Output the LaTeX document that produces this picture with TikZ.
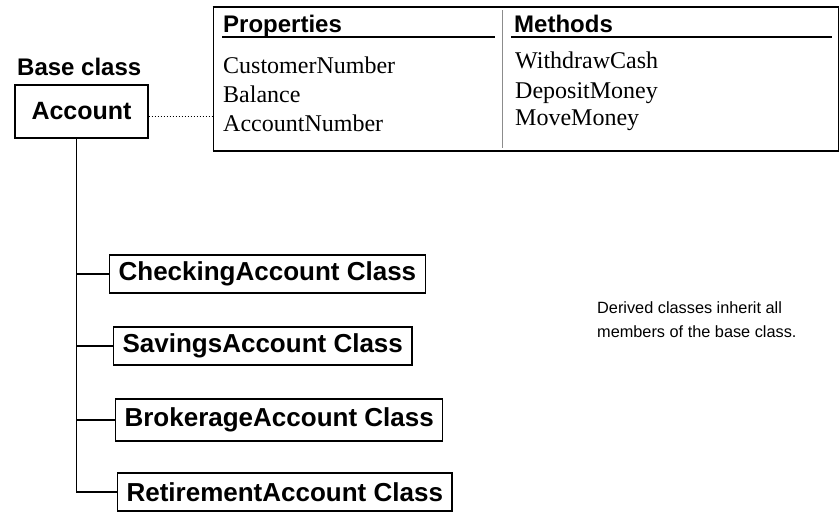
\documentclass[tikz,border=0pt]{standalone}
\usepackage{fontspec}
\setmainfont{Liberation Serif}
\setsansfont{Liberation Sans}
\begin{document}
\begin{tikzpicture}[x=1pt,y=-1pt,
        cls/.style={draw=black,rectangle,line width=1.2pt,inner xsep=9pt,minimum height=38pt,anchor=west,font=\sffamily\bfseries\fontsize{26}{30}\selectfont},
        hdr/.style={anchor=base west,inner sep=0pt,font=\sffamily\bfseries\fontsize{24}{28}\selectfont},
        item/.style={anchor=base west,inner sep=0pt,font=\rmfamily\fontsize{24}{28}\selectfont},
        note/.style={anchor=west,align=left,inner sep=0pt,font=\sffamily\fontsize{16.3}{24}\selectfont}
      ]
      \useasboundingbox (0,0) rectangle (839,512);
      % base class
      \node[hdr] (basehdr) at (17,75) {Base class};
      \node[draw=black,line width=1.2pt,minimum width=133pt,minimum height=53pt,font=\sffamily\bfseries\fontsize{25}{30}\selectfont] (account) at (81.5,111.5) {Account};
      % members table
      \node[draw=black,line width=1pt,minimum width=625pt,minimum height=143pt] (members) at (525.5,78.5) {};
      \draw[line width=2pt] (members.south west) -- (members.south east);
      \draw[line width=1.6pt] (members.north west) -- (members.north east);
      \draw[black!45,line width=1pt] (502,10) -- (502,148);
      \node[hdr] (props) at (223,32) {Properties};
      \node[hdr] (meths) at (514,32) {Methods};
      \draw[line width=1.5pt] (222,37) -- (495,37);
      \draw[line width=1.5pt] (511,37) -- (832,37);
      \node[item] (p1) at (223,73) {CustomerNumber};
      \node[item] (p2) at (223,102) {Balance};
      \node[item] (p3) at (223,131) {AccountNumber};
      \node[item] (m1) at (515,68) {WithdrawCash};
      \node[item] (m2) at (515,98) {DepositMoney};
      \node[item] (m3) at (515,125) {MoveMoney};
      \draw[dotted,line width=1pt] ([yshift=-5pt]account.east) -- ([yshift=-5pt]account.east -| members.west);
      % derived classes
      \node[cls] (checking) at (109,274) {CheckingAccount Class};
      \node[cls] (savings) at (113,346) {SavingsAccount Class};
      \node[cls,minimum height=42pt] (brokerage) at (115,420) {BrokerageAccount Class};
      \node[cls] (retirement) at (117,492) {RetirementAccount Class};
      \coordinate (trunk) at ([xshift=-5pt]account.south);
      \draw[line width=1.2pt] (trunk) |- (retirement.west);
      \draw[line width=1.2pt] (trunk |- checking.west) -- (checking.west);
      \draw[line width=1.2pt] (trunk |- savings.west) -- (savings.west);
      \draw[line width=1.2pt] (trunk |- brokerage.west) -- (brokerage.west);
      \node[note] (derived) at (597,320) {Derived classes inherit all\\members of the base class.};
\end{tikzpicture}
\end{document}
